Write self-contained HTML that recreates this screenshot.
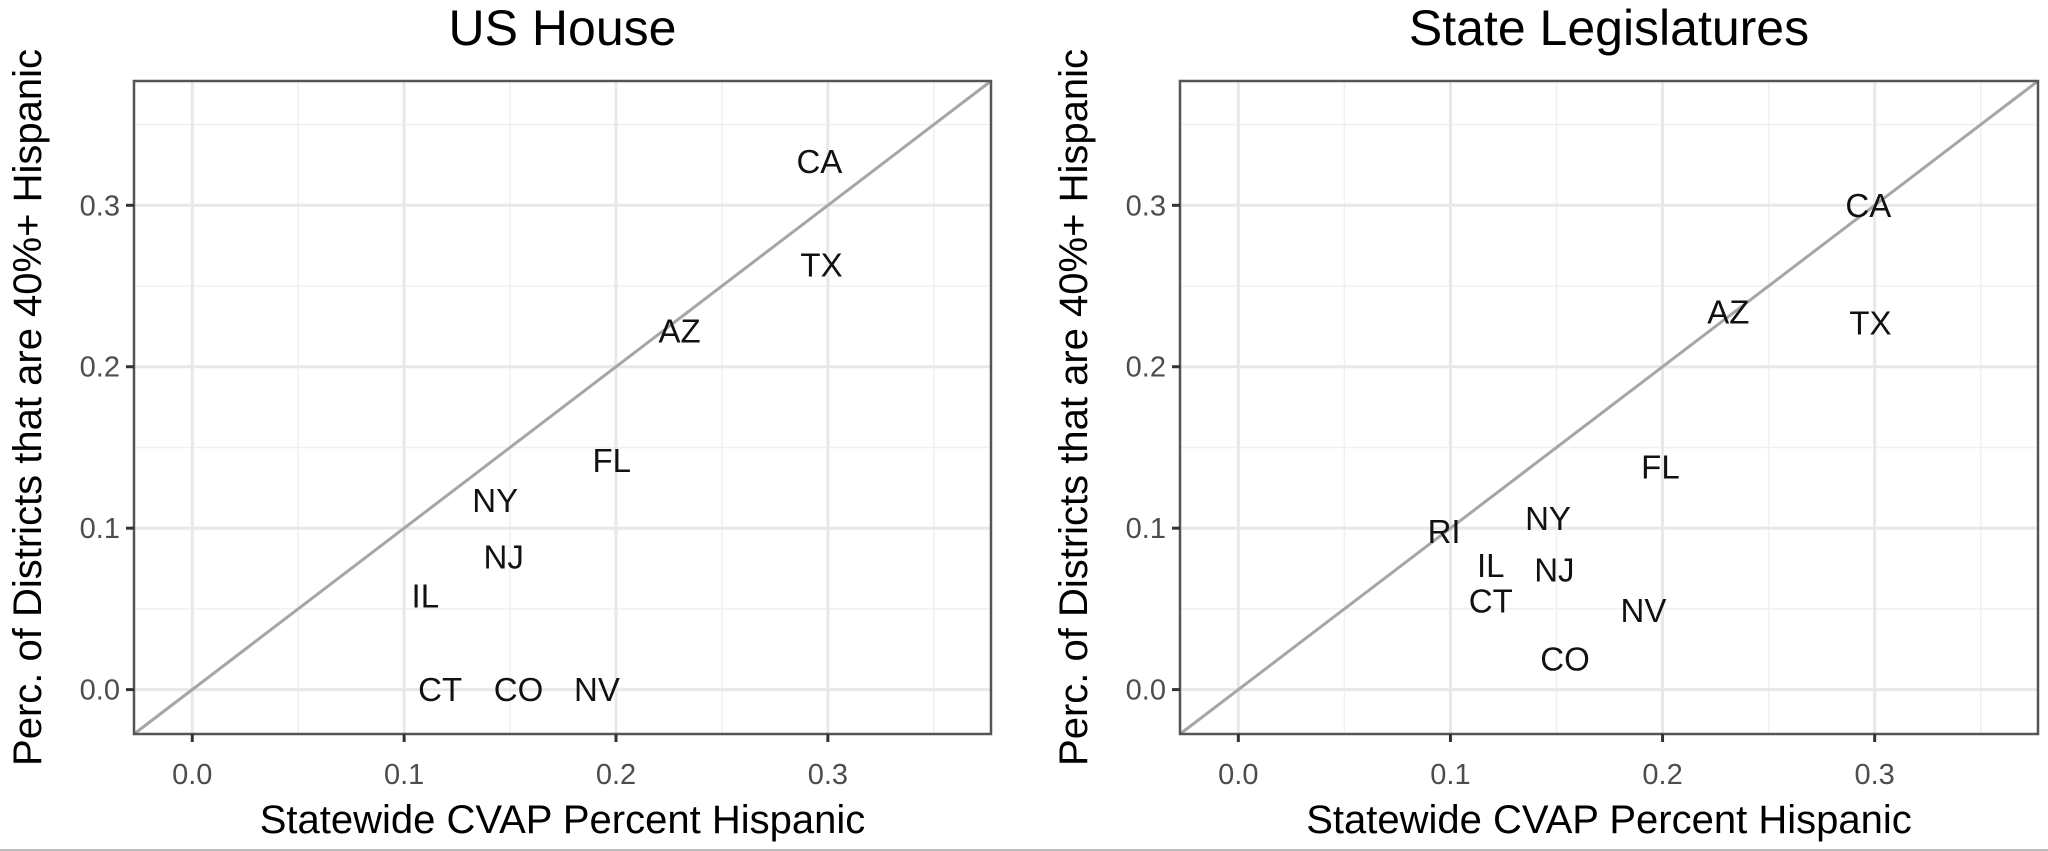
<!DOCTYPE html>
<html><head><meta charset="utf-8">
<style>
html,body{margin:0;padding:0;background:#fff;}
svg{display:block;font-family:"Liberation Sans",Arial,sans-serif;}
</style></head>
<body>
<svg id="chart" width="2048" height="851" viewBox="0 0 2048 851" xmlns="http://www.w3.org/2000/svg"></svg>
<script>
const xTicks = [0.0, 0.1, 0.2, 0.3];
const yTicks = [0.0, 0.1, 0.2, 0.3];
const xTickLabels = ["0.0", "0.1", "0.2", "0.3"];
const yTickLabels = ["0.0", "0.1", "0.2", "0.3"];
const minorTicks = [0.05, 0.15, 0.25, 0.35];
const houseStates = ["CA","TX","AZ","FL","NY","NJ","IL","CT","CO","NV"];
const houseX = [0.296,0.297,0.230,0.198,0.143,0.147,0.110,0.117,0.154,0.191];
const houseY = [0.327,0.263,0.222,0.142,0.117,0.082,0.058,0.0,0.0,0.0];
const legStates = ["CA","AZ","TX","FL","RI","NY","IL","NJ","CT","NV","CO"];
const legX = [0.297,0.231,0.298,0.199,0.097,0.146,0.119,0.149,0.119,0.191,0.154];
const legY = [0.300,0.234,0.227,0.138,0.098,0.106,0.077,0.074,0.055,0.049,0.019];
const domain = [-0.0275, 0.377];

const NS = "http://www.w3.org/2000/svg";
const svg = document.getElementById('chart');
function mk(tag, attrs, parent){
  const e = document.createElementNS(NS, tag);
  for (const k in attrs) e.setAttribute(k, attrs[k]);
  (parent||svg).appendChild(e);
  return e;
}
function panel(key, title, left, right, top, bottom, states, xs, ys){
  const g = mk('g', {});
  
  
  const sx = v => left + (v - domain[0]) / (domain[1] - domain[0]) * (right - left);
  const sy = v => bottom - (v - domain[0]) / (domain[1] - domain[0]) * (bottom - top);
  minorTicks.forEach(t => {
    const l1 = mk('line', {x1:sx(t), x2:sx(t), y1:top, y2:bottom, stroke:'#f0f0f0', 'stroke-width':1.5}, g);
    
    
    const l2 = mk('line', {x1:left, x2:right, y1:sy(t), y2:sy(t), stroke:'#f0f0f0', 'stroke-width':1.5}, g);
    
    
  });
  xTicks.forEach(t => {
    const l = mk('line', {x1:sx(t), x2:sx(t), y1:top, y2:bottom, stroke:'#e8e8e8', 'stroke-width':3}, g);
    
    
  });
  yTicks.forEach(t => {
    const l = mk('line', {x1:left, x2:right, y1:sy(t), y2:sy(t), stroke:'#e8e8e8', 'stroke-width':3}, g);
    
    
  });
  const d = mk('line', {x1:sx(domain[0]), y1:sy(domain[0]), x2:sx(domain[1]), y2:sy(domain[1]), stroke:'#a6a6a6', 'stroke-width':3}, g);
  
  
  states.forEach((s, i) => {
    const t = mk('text', {x:sx(xs[i]), y:sy(ys[i]), 'font-size':33, 'text-anchor':'middle', 'dominant-baseline':'central', fill:'#111'}, g);
    t.textContent = s;
    
    
  });
  const b = mk('rect', {x:left, y:top, width:right-left, height:bottom-top, fill:'none', stroke:'#555', 'stroke-width':2.5}, g);
  
  
  xTicks.forEach((t, i) => {
    const l = mk('line', {x1:sx(t), x2:sx(t), y1:bottom, y2:bottom+8, stroke:'#333', 'stroke-width':3}, g);
    
    
    const tx = mk('text', {x:sx(t), y:bottom+50, 'font-size':29, 'text-anchor':'middle', fill:'#4d4d4d'}, g);
    tx.textContent = xTickLabels[i];
    
    
  });
  yTicks.forEach((t, i) => {
    const l = mk('line', {x1:left-8, x2:left, y1:sy(t), y2:sy(t), stroke:'#333', 'stroke-width':3}, g);
    
    
    const tx = mk('text', {x:left-14, y:sy(t)+10, 'font-size':29, 'text-anchor':'end', fill:'#4d4d4d'}, g);
    tx.textContent = yTickLabels[i];
    
    
  });
  const ti = mk('text', {x:(left+right)/2, y:45, 'font-size':50, 'text-anchor':'middle', fill:'#000'}, g);
  ti.textContent = title;
  
  
  const xt = mk('text', {x:(left+right)/2, y:833, 'font-size':40, 'text-anchor':'middle', fill:'#000'}, g);
  xt.textContent = 'Statewide CVAP Percent Hispanic';
  
  
  const cx = left - 93, cy = (top+bottom)/2;
  const yt = mk('text', {x:cx, y:cy, 'font-size':40, 'text-anchor':'middle', fill:'#000', transform:'rotate(-90 '+cx+' '+cy+')'}, g);
  yt.textContent = 'Perc. of Districts that are 40%+ Hispanic';
  
  
}
panel('us-house', 'US House', 134, 991, 81, 734, houseStates, houseX, houseY);
panel('state-legislatures', 'State Legislatures', 1180, 2038, 81, 734, legStates, legX, legY);
const bl = mk('line', {x1:0, x2:2048, y1:850, y2:850, stroke:'#bbb', 'stroke-width':2});


</script>
</body></html>
